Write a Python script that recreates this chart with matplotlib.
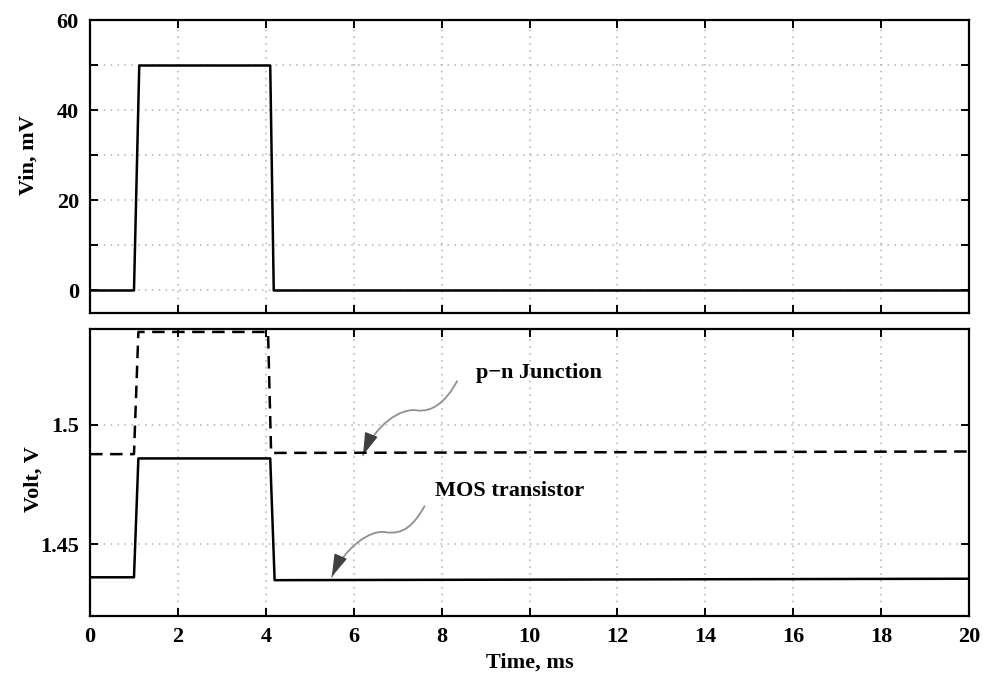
import matplotlib
matplotlib.use("Agg")
import matplotlib.pyplot as plt
from matplotlib.path import Path
from matplotlib.patches import FancyArrowPatch
import numpy as np

# input pulse, mV
t_vin = [0, 1.0, 1.12, 4.1, 4.18, 20]
vin = [0, 0, 50, 50, 0, 0]

# sensor outputs, V
t_pn = [0, 1.0, 1.1, 4.05, 4.12, 20]
v_pn = [1.4877, 1.4877, 1.5388, 1.5388, 1.4882, 1.4888]
t_mos = [0, 1.0, 1.1, 4.1, 4.2, 20]
v_mos = [1.4362, 1.4362, 1.4859, 1.4859, 1.4350, 1.4356]

time_ticks = np.arange(0, 21, 2)
vin_ticks = [0, 20, 40, 60]
volt_ticks = [1.45, 1.5]
volt_labels = ["1.45", "1.5"]

# wavy pointers (bezier control points, data units of lower panel)
pn_arrow = [(8.35, 1.5182), (8.09, 1.5093), (7.78, 1.5052), (7.44, 1.5060),
            (7.06, 1.5071), (6.49, 1.5000), (6.21, 1.4872)]
mos_arrow = [(7.61, 1.4659), (7.36, 1.4579), (7.13, 1.4538), (6.71, 1.4551),
             (6.37, 1.4561), (5.79, 1.4487), (5.50, 1.4364)]
pn_text = (8.78, 1.5196)
mos_text = (7.84, 1.4703)

FS = 16
plt.rcParams["font.family"] = ["Liberation Serif", "DejaVu Serif"]
plt.rcParams["font.weight"] = "bold"
plt.rcParams["font.size"] = FS
plt.rcParams["axes.linewidth"] = 1.6

GRID = dict(color="#b0b0b0", linestyle=(0, (1, 3.5)), linewidth=1.1)


def setup(ax):
    ax.tick_params(which="both", direction="in", top=True, right=True,
                   length=6, width=1.4, pad=8, labelsize=FS)
    ax.set_xlim(0, 20)
    ax.set_xticks(time_ticks)
    ax.grid(True, which="both", **GRID)
    ax.set_axisbelow(True)


fig = plt.figure(figsize=(9.84, 6.81), dpi=100)

# upper panel
ax1 = fig.add_axes([0.0915, 0.5404, 0.8933, 0.4295])
setup(ax1)
ax1.plot(t_vin, vin, color="black", lw=1.8)
ax1.set_ylim(-5, 60)
ax1.set_yticks(vin_ticks)
ax1.set_yticks([10, 30, 50], minor=True)
ax1.tick_params(labelbottom=False)
ax1.grid(False, axis="x", which="minor")
ax1.set_ylabel("Vin, mV", fontsize=FS, fontweight="bold")
ax1.yaxis.set_label_coords(-0.058, 0.54)

# lower panel
ax2 = fig.add_axes([0.0915, 0.0954, 0.8933, 0.4214])
setup(ax2)
ax2.plot(t_pn, v_pn, color="black", lw=1.8, linestyle=(0, (5, 3)))
ax2.plot(t_mos, v_mos, color="black", lw=1.8)
ax2.set_ylim(1.42, 1.54)
ax2.set_yticks(volt_ticks)
ax2.set_yticklabels(volt_labels)
ax2.set_ylabel("Volt, V", fontsize=FS, fontweight="bold")
ax2.yaxis.set_label_coords(-0.053, 0.477)
ax2.set_xlabel("Time, ms", fontsize=FS, fontweight="bold", labelpad=4)

codes = [Path.MOVETO] + [Path.CURVE4] * 6
for pts in (pn_arrow, mos_arrow):
    # grey wavy stem
    stem = FancyArrowPatch(path=Path(pts, codes), arrowstyle="-",
                           color="#909090", lw=1.3, transform=ax2.transData)
    ax2.add_patch(stem)
    # dark arrow head at the tip, along the end tangent
    tip = np.array(pts[-1])
    back = tip + 0.2 * (np.array(pts[-2]) - tip)
    head = FancyArrowPatch(tuple(back), tuple(tip),
                           arrowstyle="-|>,head_length=1.0,head_width=0.3",
                           mutation_scale=14, color="#404040", lw=1.0,
                           shrinkA=0, shrinkB=0, transform=ax2.transData)
    ax2.add_patch(head)

ax2.text(pn_text[0], pn_text[1], "p\u2212n Junction", fontsize=FS,
         fontweight="bold", va="baseline", ha="left")
ax2.text(mos_text[0], mos_text[1], "MOS transistor", fontsize=FS,
         fontweight="bold", va="baseline", ha="left")

fig.savefig("out.png", dpi=100)
